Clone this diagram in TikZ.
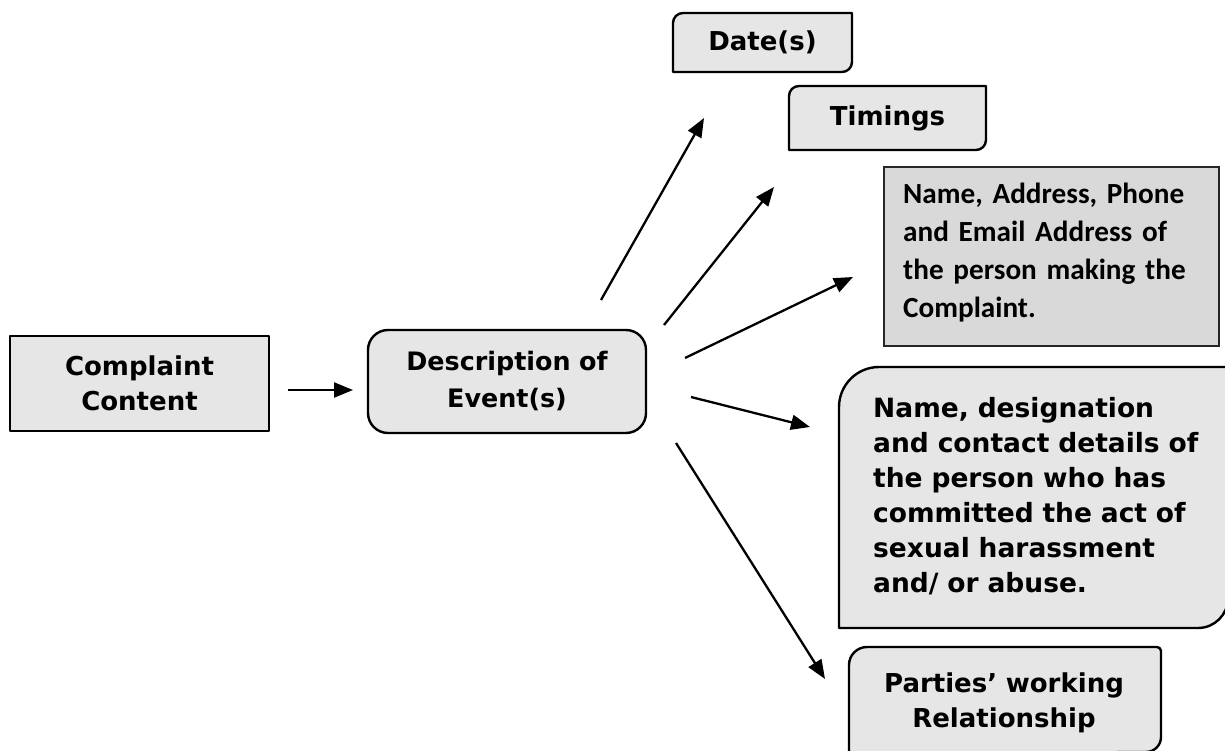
\documentclass[tikz,border=0pt]{standalone}
\usepackage{fontspec}
\setmainfont{DejaVu Sans}
\newfontfamily\calfont{Carlito}
\usetikzlibrary{arrows.meta}
\definecolor{boxgray}{RGB}{230,230,230}
\definecolor{namegray}{RGB}{217,217,217}
\begin{document}
\begin{tikzpicture}[x=1pt,y=1pt,
  box/.style={draw=black,line width=2.4pt,fill=boxgray,line join=round},
  namebox/.style={draw=black!85,line width=2pt,fill=namegray},
  conn/.style={line width=2.3pt,-{Triangle[length=19pt,width=15pt]}},
  vtxt/.style={font=\bfseries\fontsize{26}{35}\selectfont,inner sep=0pt},
  dtxt/.style={font=\bfseries\fontsize{25.4}{37}\selectfont,inner sep=0pt},
  atxt/.style={font=\bfseries\fontsize{26.5}{35}\selectfont,inner sep=0pt},
  ctxt/.style={font=\calfont\bfseries\fontsize{29.2}{38}\selectfont,inner sep=0pt},
  ]
\useasboundingbox (0,0) rectangle (1225,750);

% boxes
\draw[box] (10,319) rectangle (269,414);
\draw[box,rounded corners=20pt] (368,317) rectangle (646,420);
\draw[box] (673,678) -- (673,727) arc[start angle=180,end angle=90,radius=10]
  -- (852,737) -- (852,688) arc[start angle=0,end angle=-90,radius=10] -- cycle;
\draw[box] (789,600) -- (789,654) arc[start angle=180,end angle=90,radius=10]
  -- (986,664) -- (986,610) arc[start angle=0,end angle=-90,radius=10] -- cycle;
\draw[namebox] (884,404) rectangle (1219,583);
\draw[box] (839,122) -- (839,343) arc[start angle=180,end angle=90,radius=40]
  -- (1228,383) -- (1228,152) arc[start angle=0,end angle=-90,radius=30] -- cycle;
\draw[box] (849,-4) -- (849,85) arc[start angle=180,end angle=90,radius=18]
  -- (1157,103) arc[start angle=90,end angle=0,radius=4]
  -- (1161,13) arc[start angle=0,end angle=-90,radius=15] -- cycle;

% texts
\node[vtxt,text width=250pt,align=center] (cc) at (139.5,366.5) {Complaint\\Content};
\node[dtxt,text width=270pt,align=center] (desc) at (507,368.5) {Description of\\Event(s)};
\node[vtxt] (date) at (762.5,707.5) {Date(s)};
\node[vtxt] (timing) at (887.5,632) {Timings};
\node[ctxt,text width=310pt,align=left,anchor=base west] (complainant) at (903,546)
  {Name, Address, Phone\\and Email Address of\\the person making the\\Complaint.};
\node[atxt,text width=345pt,align=left,anchor=base west] (accused) at (873,332)
  {Name, designation\\and contact details of\\the person who has\\committed the act of\\sexual harassment\\and/ or abuse.};
\node[vtxt,text width=300pt,align=center,anchor=base] (rel) at (1004,58)
  {Parties’ working\\Relationship};

% connector ends
\coordinate (c1) at (288,360);  \coordinate (c2) at (353,360);
\coordinate (a1s) at (601,450); \coordinate (a1e) at (704,632);
\coordinate (a2s) at (664,425); \coordinate (a2e) at (774,563);
\coordinate (a3s) at (685,392); \coordinate (a3e) at (853,473);
\coordinate (a4s) at (691,353); \coordinate (a4e) at (810,323);
\coordinate (a5s) at (676,307); \coordinate (a5e) at (825,71);

\draw[conn] (c1) -- (c2);
\draw[conn] (a1s) -- (a1e);
\draw[conn] (a2s) -- (a2e);
\draw[conn] (a3s) -- (a3e);
\draw[conn] (a4s) -- (a4e);
\draw[conn] (a5s) -- (a5e);
\end{tikzpicture}
\end{document}
